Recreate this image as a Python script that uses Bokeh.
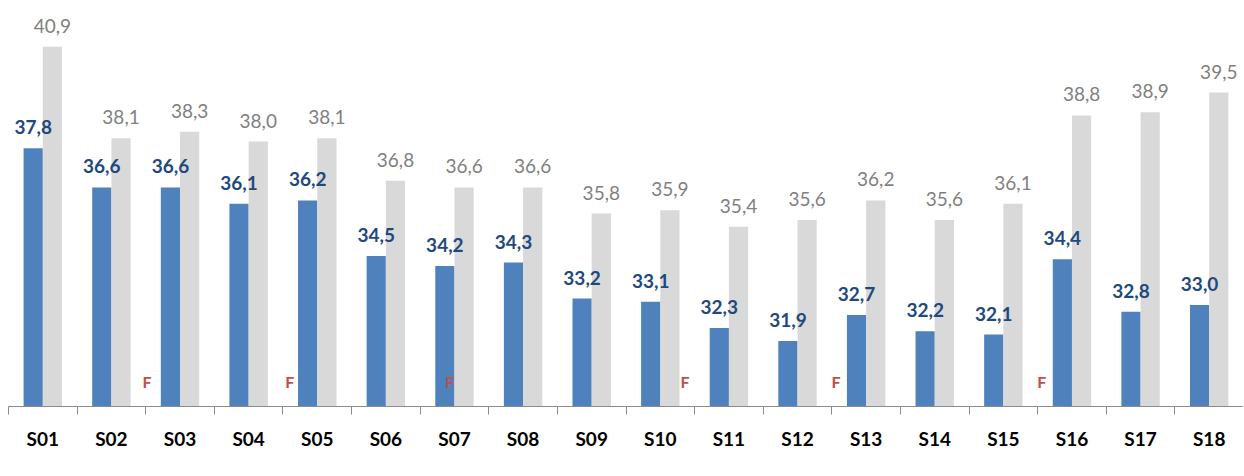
from bokeh.plotting import figure
from bokeh.models import (Range1d, LinearAxis, FixedTicker, Title,
                          ColumnDataSource, Legend, LegendItem)
from bokeh.transform import dodge
from bokeh.core.properties import value
from bokeh.embed import file_html
from bokeh.resources import INLINE

categories = ["S01", "S02", "S03", "S04", "S05", "S06", "S07", "S08", "S09",
              "S10", "S11", "S12", "S13", "S14", "S15", "S16", "S17", "S18"]
calcul_cereg = [37.8, 36.6, 36.6, 36.1, 36.2, 34.5, 34.2, 34.3, 33.2,
                33.1, 32.3, 31.9, 32.7, 32.2, 32.1, 34.4, 32.8, 33.0]
calcul_lh2 = [40.9, 38.1, 38.3, 38.0, 38.1, 36.8, 36.6, 36.6, 35.8,
              35.9, 35.4, 35.6, 36.2, 35.6, 36.1, 38.8, 38.9, 39.5]
f_categories = ["S02", "S05", "S07", "S10", "S13", "S16"]
f_offsets = [0.52, -0.40, -0.07, 0.36, -0.44, -0.44]

Y_MIN, Y_MAX = 29.9, 42.07
FONT_NAME = "Lato"
FONT = value(FONT_NAME)
BLUE, GREY = "#4F81BD", "#D9D9D9"
N = len(categories)


def fmt(v):
    return f"{v:.1f}".replace(".", ",")


# category slot centres on a numeric axis (slot i spans [i, i+1])
xc = [i + 0.5 for i in range(N)]

src = ColumnDataSource(dict(
    x=xc, cat=categories, cereg=calcul_cereg, lh2=calcul_lh2,
    cereg_lbl=[fmt(v) for v in calcul_cereg],
    lh2_lbl=[fmt(v) for v in calcul_lh2],
))

p = figure(x_range=Range1d(0, N), y_range=Range1d(Y_MIN, Y_MAX),
           frame_width=1235, frame_height=398,
           output_backend="svg", toolbar_location=None,
           x_axis_location=None, y_axis_location=None,
           min_border_left=8, min_border_right=0, min_border_top=8,
           min_border_bottom=0)
p.outline_line_color = None
p.background_fill_color = "white"
p.border_fill_color = "white"

r_c = p.vbar(x=dodge("x", -0.14), top="cereg", bottom=Y_MIN,
             width=0.28, fill_color=BLUE, line_color=None, source=src)
r_l = p.vbar(x=dodge("x", 0.14), top="lh2", bottom=Y_MIN,
             width=0.28, fill_color=GREY, line_color=None, source=src)

p.text(x=dodge("x", -0.14), y="cereg", text="cereg_lbl",
       text_align="center", text_baseline="alphabetic", y_offset=-21,
       text_font=FONT, text_font_style="bold", text_font_size="19px",
       text_color="#1F497D", source=src)
p.text(x=dodge("x", 0.14), y="lh2", text="lh2_lbl",
       text_align="center", text_baseline="alphabetic", y_offset=-21,
       text_font=FONT, text_font_style="normal", text_font_size="19px",
       text_color="#7F7F7F", source=src)

f_x = [xc[categories.index(c)] + o for c, o in zip(f_categories, f_offsets)]
f_src = ColumnDataSource(dict(x=f_x, y=[Y_MIN] * len(f_x), t=["F"] * len(f_x)))
p.text(x="x", y="y", text="t", source=f_src,
       text_align="center", text_baseline="middle", y_offset=-25,
       text_font=FONT, text_font_style="bold", text_font_size="16px",
       text_color="#C0504D")

overrides = {}
for t, c in zip(xc, categories):
    overrides[t] = c
axis = LinearAxis(ticker=FixedTicker(ticks=xc, minor_ticks=list(range(N + 1))),
                  major_label_overrides=overrides,
                  major_tick_out=0, major_tick_in=0,
                  minor_tick_out=8, minor_tick_in=0,
                  axis_line_color="#8C8C8C", minor_tick_line_color="#8C8C8C",
                  major_label_standoff=12,
                  major_label_text_font=FONT_NAME, major_label_text_font_style="bold",
                  major_label_text_font_size="19px", major_label_text_color="black")
p.add_layout(axis, "below")
# empty spacer so the canvas reaches the bottom of the window
p.add_layout(Title(text=" ", text_font_size="14px"), "below")

legend = Legend(items=[LegendItem(label="Calcul Cereg", renderers=[r_c]),
                       LegendItem(label="Calcul LH2", renderers=[r_l])],
                orientation="horizontal", location=(462, -62),
                label_text_font=FONT_NAME, label_text_font_style="italic",
                label_text_font_size="20px", label_text_color="#404040",
                glyph_width=13, glyph_height=13, label_standoff=4, spacing=62,
                padding=0, margin=0, border_line_color=None,
                background_fill_alpha=0)
p.add_layout(legend)
p.grid.grid_line_color = None

open("out.html", "w").write(file_html(p, INLINE))
